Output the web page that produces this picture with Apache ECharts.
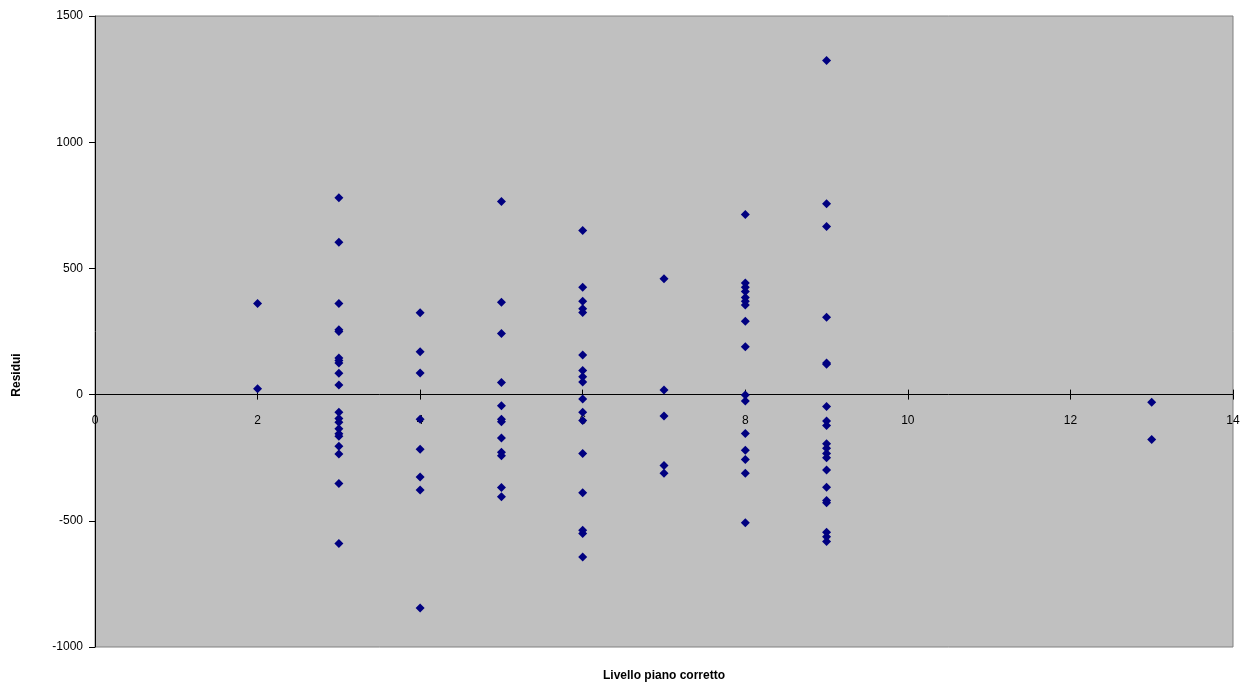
<!DOCTYPE html>
<html>
<head>
<meta charset="utf-8">
<script src="https://cdn.jsdelivr.net/npm/echarts@6/dist/echarts.min.js"></script>
<style>
  html, body { margin: 0; padding: 0; background: #ffffff; }
  #chart { width: 1246px; height: 687px; }
</style>
</head>
<body>
<div id="chart"></div>
<script>
// Residui per livello di piano corretto
const livelli = [2, 3, 4, 5, 6, 7, 8, 9, 13];
const residui2 = [361, 23];
const residui3 = [780, 604, 361, 257, 250, 145, 135, 125, 85, 38, -70, -95, -110, -135, -155, -165, -205, -235, -352, -590];
const residui4 = [324, 170, 86, -98, -217, -326, -378, -845];
const residui5 = [765, 366, 242, 48, -44, -98, -108, -172, -228, -242, -368, -405];
const residui6 = [650, 425, 370, 340, 325, 157, 95, 71, 50, -17, -70, -103, -233, -389, -537, -550, -643];
const residui7 = [459, 18, -85, -281, -312];
const residui8 = [714, 442, 425, 408, 385, 370, 355, 291, 190, -2, -25, -154, -220, -257, -312, -508];
const residui9 = [1324, 756, 666, 306, 125, 120, -47, -105, -122, -195, -213, -233, -250, -299, -367, -420, -428, -545, -563, -582];
const residui13 = [-30, -178];

const xTicks = [0, 2, 4, 6, 8, 10, 12, 14];
const yTicks = [-1000, -500, 0, 500, 1000, 1500];

const gruppi = [residui2, residui3, residui4, residui5, residui6, residui7, residui8, residui9, residui13];
const punti = [];
gruppi.forEach((vals, i) => vals.forEach(v => punti.push([livelli[i], v])));

const font = 'Liberation Sans, Arial, sans-serif';
const plain = v => String(v);

// plot box
const W = 1246, H = 687;
const gridL = 95, gridR = 13, gridT = 16, gridB = 40;
const plotH = H - gridT - gridB;
const yMin = yTicks[0], yMax = yTicks[yTicks.length - 1];
// distance of the zero line from the top and bottom edges of the plot
const zeroFromTop = plotH * (yMax - 0) / (yMax - yMin);
const zeroFromBottom = plotH - zeroFromTop;

const chart = echarts.init(document.getElementById('chart'), null, { renderer: 'canvas' });

const xRange = { type: 'value', min: xTicks[0], max: xTicks[xTicks.length - 1], interval: 2, splitLine: { show: false } };

chart.setOption({
  animation: false,
  backgroundColor: '#ffffff',
  grid: {
    left: gridL, right: gridR, top: gridT, bottom: gridB,
    show: true, backgroundColor: '#C0C0C0', borderColor: '#808080', borderWidth: 1
  },
  xAxis: [Object.assign({}, xRange, {
    // zero line with the lower half of the ticks and the labels just below it
    axisLine: { onZero: true, lineStyle: { color: '#000000', width: 1 } },
    axisTick: { show: true, inside: false, length: 5, lineStyle: { color: '#000000' } },
    axisLabel: { margin: 20 - zeroFromBottom, color: '#000000', fontFamily: font, fontSize: 12, formatter: plain }
  }), Object.assign({}, xRange, {
    // upper half of the ticks crossing the zero line
    position: 'top', offset: -zeroFromTop,
    axisLine: { show: false, onZero: false },
    axisTick: { show: true, inside: false, length: 5, lineStyle: { color: '#000000' } },
    axisLabel: { show: false }
  })],
  yAxis: {
    type: 'value', min: yMin, max: yMax, interval: 500,
    splitLine: { show: false },
    axisLine: { show: true, onZero: false, lineStyle: { color: '#000000', width: 1 } },
    axisTick: { show: true, inside: false, length: 6, lineStyle: { color: '#000000' } },
    axisLabel: { margin: 12, color: '#000000', fontFamily: font, fontSize: 12, formatter: plain }
  },
  graphic: [{
    type: 'text', x: gridL + (W - gridL - gridR) / 2, y: 676,
    style: {
      text: 'Livello piano corretto', fill: '#000000',
      font: 'bold 12px ' + font, textAlign: 'center', textVerticalAlign: 'middle'
    }
  }, {
    type: 'text', x: 17, y: 375, rotation: Math.PI / 2,
    style: {
      text: 'Residui', fill: '#000000',
      font: 'bold 12px ' + font, textAlign: 'center', textVerticalAlign: 'middle'
    }
  }],
  series: [{
    type: 'scatter',
    xAxisIndex: 0,
    data: punti,
    symbol: 'diamond',
    symbolSize: 9,
    itemStyle: { color: '#000080', opacity: 1 }
  }]
});
</script>
</body>
</html>
